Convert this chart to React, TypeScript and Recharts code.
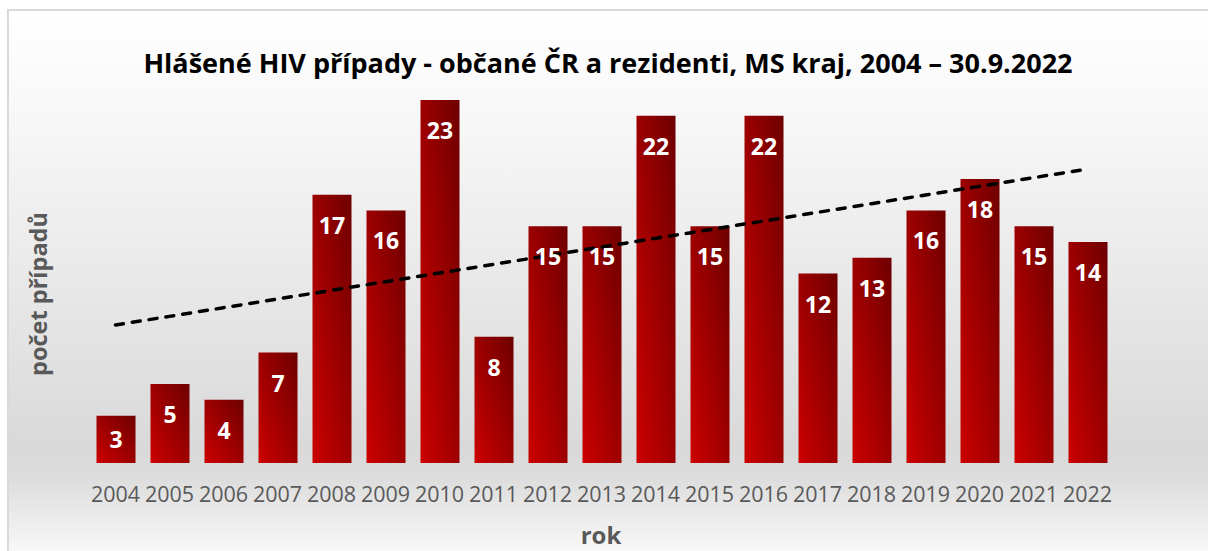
import { BarChart, Bar, Line, XAxis, YAxis, LabelList } from 'recharts'

const years = ['2004', '2005', '2006', '2007', '2008', '2009', '2010', '2011', '2012', '2013', '2014', '2015', '2016', '2017', '2018', '2019', '2020', '2021', '2022']
const cases = [3, 5, 4, 7, 17, 16, 23, 8, 15, 15, 22, 15, 22, 12, 13, 16, 18, 15, 14]

const title = 'Hlášené HIV případy - občané ČR a rezidenti, MS kraj, 2004 – 30.9.2022'
const xTitle = 'rok'
const yTitle = 'počet případů'

// linear trend (least squares), same as the Excel trendline
function linearTrend(vals: number[]) {
  const n = vals.length
  const mx = (n - 1) / 2
  const my = vals.reduce((a, b) => a + b, 0) / n
  let sxy = 0
  let sxx = 0
  vals.forEach((v, i) => {
    sxy += (i - mx) * (v - my)
    sxx += (i - mx) * (i - mx)
  })
  const k = sxy / sxx
  return vals.map((_, i) => my + k * (i - mx))
}

const trend = linearTrend(cases)
const data = years.map((y, i) => ({ year: y, count: cases[i], trend: trend[i] }))

const FONT = '"Open Sans", "Noto Sans", sans-serif'

function BarValue(props: any) {
  const { x, y, width, height, value } = props
  const cy = y + Math.min(30, height / 2)
  return (
    <text
      x={x + width / 2}
      y={cy}
      textAnchor="middle"
      dominantBaseline="central"
      fill="#ffffff"
      fontFamily={FONT}
      fontWeight={700}
      fontSize={23}
    >
      {value}
    </text>
  )
}

function YearTick({ x, y, payload }: any) {
  return (
    <text x={x} y={y + 31} textAnchor="middle" fill="#595959" fontFamily={FONT} fontSize={21.5}>
      {payload.value}
    </text>
  )
}

export default function App() {
  return (
    <div style={{ position: 'absolute', left: 0, top: 0, width: 1208, height: 551, background: '#fff', overflow: 'hidden' }}>
      <div
        style={{
          position: 'absolute',
          left: 7,
          top: 9,
          width: 1230,
          height: 560,
          borderLeft: '2px solid #d9d9d9',
          borderTop: '2px solid #d9d9d9',
          background: 'linear-gradient(to bottom, #ffffff 0%, #f8f8f8 18%, #d9d9d9 78%, #dcdcdc 83%, #ffffff 100%)',
        }}
      />
      <div
        style={{
          position: 'absolute',
          left: 608,
          top: 62,
          transform: 'translate(-50%, -50%)',
          fontFamily: FONT,
          fontWeight: 700,
          fontSize: 27,
          color: '#000',
          whiteSpace: 'nowrap',
        }}
      >
        {title}
      </div>
      <div
        style={{
          position: 'absolute',
          left: 38,
          top: 294,
          transform: 'translate(-50%, -50%) rotate(-90deg)',
          fontFamily: FONT,
          fontWeight: 700,
          fontSize: 23.5,
          color: '#595959',
          whiteSpace: 'nowrap',
        }}
      >
        {yTitle}
      </div>
      <div
        style={{
          position: 'absolute',
          left: 601,
          top: 534,
          transform: 'translate(-50%, -50%)',
          fontFamily: FONT,
          fontWeight: 700,
          fontSize: 24,
          color: '#595959',
        }}
      >
        {xTitle}
      </div>
      <div style={{ position: 'absolute', left: 0, top: 0 }}>
        <BarChart
          width={1208}
          height={551}
          data={data}
          margin={{ top: 100, right: 93.5, bottom: 48, left: 88.5 }}
          barSize={39}
        >
          <defs>
            <linearGradient id="barFill" x1="1" y1="0" x2="0" y2="1">
              <stop offset="0%" stopColor="#6e0000" />
              <stop offset="100%" stopColor="#cc0000" />
            </linearGradient>
          </defs>
          <XAxis dataKey="year" axisLine={false} tickLine={false} height={40} tick={<YearTick />} interval={0} />
          <YAxis hide domain={[0, 23]} />
          <Bar dataKey="count" fill="url(#barFill)" isAnimationActive={false}>
            <LabelList dataKey="count" content={<BarValue />} />
          </Bar>
          <Line
            dataKey="trend"
            type="linear"
            stroke="#000"
            strokeWidth={3.5}
            strokeDasharray="8 9"
            strokeLinecap="round"
            dot={false}
            activeDot={false}
            isAnimationActive={false}
          />
        </BarChart>
      </div>
    </div>
  )
}
